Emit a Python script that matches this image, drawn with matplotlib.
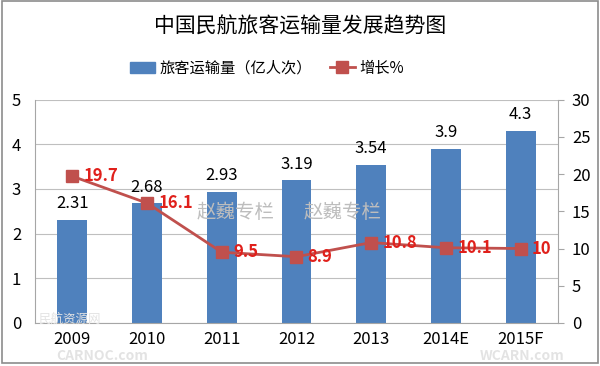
import matplotlib
matplotlib.use('Agg')
from matplotlib import pyplot as plt
from matplotlib.patches import Patch, Rectangle
from matplotlib.lines import Line2D
import numpy as np

plt.rcParams['font.family'] = ['Noto Sans CJK SC', 'DejaVu Sans']

# data
years = ['2009', '2010', '2011', '2012', '2013', '2014E', '2015F']
passengers = [2.31, 2.68, 2.93, 3.19, 3.54, 3.9, 4.3]   # 亿人次
growth = [19.7, 16.1, 9.5, 8.9, 10.8, 10.1, 10]          # %
growth_labels = ['19.7', '16.1', '9.5', '8.9', '10.8', '10.1', '10']

bar_color = '#4F81BD'
line_color = '#C0504D'
axis_grey = '#A6A6A6'

fig = plt.figure(figsize=(6, 3.66), dpi=100)
ax = fig.add_axes([0.0583, 0.1175, 0.8717, 0.6105])
x = np.arange(len(years))

ax.bar(x, passengers, width=0.4, color=bar_color, zorder=2)
for xi, v in zip(x, passengers):
    ax.text(xi, v + 0.17, '{:g}'.format(v), ha='center', va='bottom', fontsize=12, color='black')

ax.set_xlim(-0.5, len(years) - 0.5)
ax.set_ylim(0, 5)
ax.set_yticks(range(0, 6))
ax.set_xticks(x)
ax.set_xticklabels(years)
ax.yaxis.grid(True, color='#BFBFBF', linewidth=0.8, zorder=0)
ax.set_axisbelow(True)
ax.tick_params(axis='both', length=0, labelsize=12, pad=6)
ax.tick_params(axis='y', pad=10)
for s in ['top', 'right']:
    ax.spines[s].set_visible(False)
for s in ['left', 'bottom']:
    ax.spines[s].set_color(axis_grey)
    ax.spines[s].set_linewidth(0.8)

ax2 = ax.twinx()
ax2.plot(x, growth, color=line_color, linewidth=2, marker='s', markersize=9,
         markerfacecolor=line_color, markeredgecolor=line_color, zorder=3)
for xi, v, lab in zip(x, growth, growth_labels):
    ax2.text(xi + 0.15, v, lab, ha='left', va='center', fontsize=12,
             fontweight='bold', color='#E0201B', zorder=4)
ax2.set_ylim(0, 30)
ax2.set_yticks(range(0, 31, 5))
ax2.tick_params(axis='y', length=4, color=axis_grey, labelsize=12, pad=6)
for s in ['top', 'left', 'bottom']:
    ax2.spines[s].set_visible(False)
ax2.spines['right'].set_color(axis_grey)
ax2.spines['right'].set_linewidth(0.8)

# watermarks
for wx in [2.19, 3.62]:
    ax.text(wx, 2.48, '赵巍专栏', fontsize=14, color='#BDBDBD', style='italic',
            ha='center', va='center', zorder=5)
fig.text(0.115, 0.128, '民航资源网', fontsize=9, color='#E3E3E3', ha='center', va='center')
fig.text(0.17, 0.027, 'CARNOC.com', fontsize=10, color='#E3E3E3', fontweight='bold',
         ha='center', va='center')
fig.text(0.87, 0.027, 'WCARN.com', fontsize=10, color='#E3E3E3', fontweight='bold',
         ha='center', va='center')

fig.text(0.5, 0.926, '中国民航旅客运输量发展趋势图', fontsize=15, ha='center', va='center')

handles = [Patch(facecolor=bar_color, edgecolor=bar_color),
           Line2D([0], [0], color=line_color, linewidth=2, marker='s', markersize=8)]
fig.legend(handles, ['旅客运输量（亿人次）', '增长%'], loc='center', ncol=2,
           bbox_to_anchor=(0.445, 0.814), frameon=False, fontsize=11,
           handlelength=1.6, handletextpad=0.3, columnspacing=1.2)

fig.patches.append(Rectangle((0.004, 0.008), 0.992, 0.988, transform=fig.transFigure,
                             fill=False, edgecolor='#8C8C8C', linewidth=1.2))

plt.savefig('out.png', dpi=100)
